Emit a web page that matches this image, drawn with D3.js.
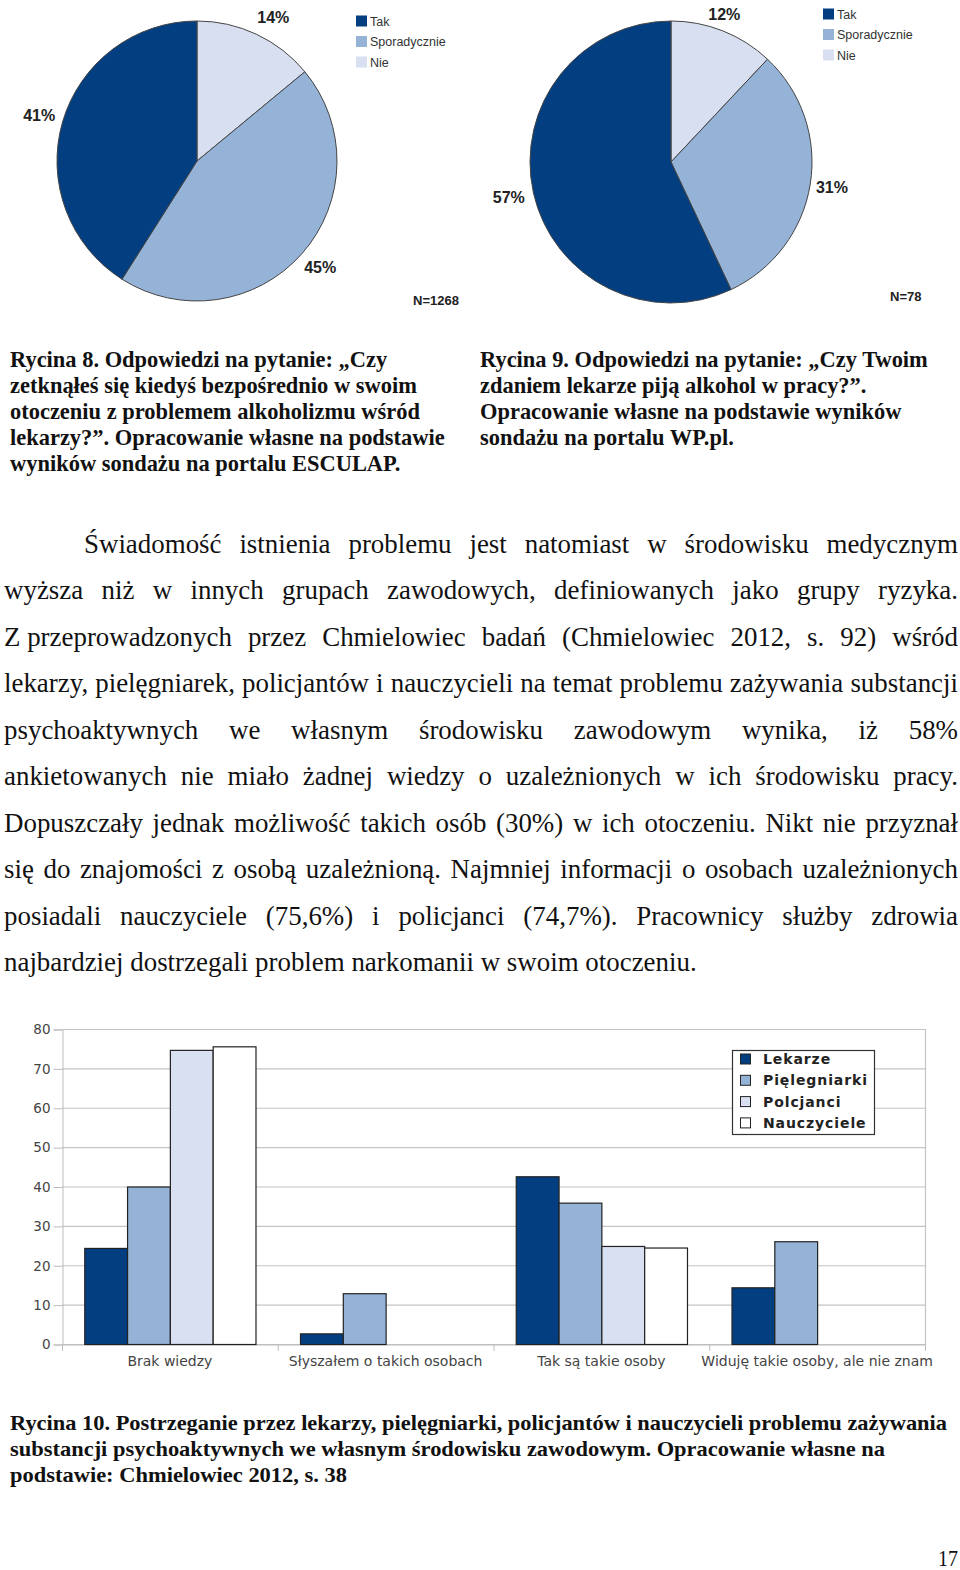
<!DOCTYPE html>
<html><head><meta charset="utf-8">
<script src="https://cdn.jsdelivr.net/npm/d3@7"></script>
<style>html,body{margin:0;padding:0;background:#fff}svg{display:block}</style>
</head><body>
<svg id="page" width="960" height="1570"></svg>
<script>
// ---------- DATA ----------
const pieLabels = ["Tak", "Sporadycznie", "Nie"];
const pie1Values = [41, 45, 14];   // N=1268
const pie2Values = [57, 31, 12];   // N=78
const pie1N = "N=1268";
const pie2N = "N=78";

const caption8 = ["Rycina 8. Odpowiedzi na pytanie: „Czy",
  "zetknąłeś się kiedyś bezpośrednio w swoim",
  "otoczeniu z problemem alkoholizmu wśród",
  "lekarzy?”. Opracowanie własne na podstawie",
  "wyników sondażu na portalu ESCULAP."];
const caption9 = ["Rycina 9. Odpowiedzi na pytanie: „Czy Twoim",
  "zdaniem lekarze piją alkohol w pracy?”.",
  "Opracowanie własne na podstawie wyników",
  "sondażu na portalu WP.pl."];
const bodyLines = [
  "Świadomość istnienia problemu jest natomiast w środowisku medycznym",
  "wyższa niż w innych grupach zawodowych, definiowanych jako grupy ryzyka.",
  "Z\u00A0przeprowadzonych przez Chmielowiec badań (Chmielowiec 2012, s. 92) wśród",
  "lekarzy, pielęgniarek, policjantów i nauczycieli na temat problemu zażywania substancji",
  "psychoaktywnych we własnym środowisku zawodowym wynika, iż 58%",
  "ankietowanych nie miało żadnej wiedzy o uzależnionych w ich środowisku pracy.",
  "Dopuszczały jednak możliwość takich osób (30%) w ich otoczeniu. Nikt nie przyznał",
  "się do znajomości z osobą uzależnioną. Najmniej informacji o osobach uzależnionych",
  "posiadali nauczyciele (75,6%) i policjanci (74,7%). Pracownicy służby zdrowia",
  "najbardziej dostrzegali problem narkomanii w swoim otoczeniu."];

const categories = ["Brak wiedzy", "Słyszałem o takich osobach", "Tak są takie osoby", "Widuję takie osoby, ale nie znam"];
const seriesNames = ["Lekarze", "Pięlegniarki", "Polcjanci", "Nauczyciele"];
const lekarze      = [24.4, 2.7, 42.6, 14.4];
const pielegniarki = [40.0, 12.9, 35.9, 26.1];
const policjanci   = [74.7, 0, 24.9, 0];
const nauczyciele  = [75.6, 0, 24.5, 0];
const yTicks = [0, 10, 20, 30, 40, 50, 60, 70, 80];

const caption10 = ["Rycina 10. Postrzeganie przez lekarzy, pielęgniarki, policjantów i nauczycieli problemu zażywania",
  "substancji psychoaktywnych we własnym środowisku zawodowym. Opracowanie własne na",
  "podstawie: Chmielowiec 2012, s. 38"];
const pageNumber = "17";

// ---------- STYLE ----------
const cDark = "#033f80", cMid = "#95b3d7", cLight = "#d8dff0";
const pieColors = [cDark, cMid, cLight];
const barColors = [cDark, cMid, "#d9e0f2", "#ffffff"];
const serif = "'Liberation Serif','Times New Roman',serif";
const sans = "'Liberation Sans',Arial,sans-serif";
const dsans = "'DejaVu Sans',Verdana,sans-serif";

const svg = d3.select("#page");

function measure(str, family, size, weight) {
  const t = svg.append("text").attr("font-family", family).attr("font-size", size)
    .attr("font-weight", weight || "normal").text(str);
  const w = t.node().getComputedTextLength();
  t.remove();
  return w;
}

// ---------- PIES ----------
function drawPie(values, cx, cy, r, legX, legY, nText, nX, nY, shifts) {
  const g = svg.append("g").attr("transform", `translate(${cx},${cy})`);
  // drawing order clockwise from 12 o'clock: Nie, Sporadycznie, Tak
  const order = [2, 1, 0];
  const items = order.map(i => ({ label: pieLabels[i], value: values[i], color: pieColors[i] }));
  const arcs = d3.pie().sort(null).value(d => d.value)(items);
  const arc = d3.arc().innerRadius(0).outerRadius(r);
  g.selectAll("path").data(arcs).join("path")
    .attr("d", arc).attr("fill", d => d.data.color)
    .attr("stroke", "#444").attr("stroke-width", 1);
  g.selectAll("text.lbl").data(arcs).join("text").attr("class", "lbl")
    .each(function (d, i) {
      const a = (d.startAngle + d.endAngle) / 2;
      const s = Math.sin(a), c = -Math.cos(a);
      const extra = 16 * Math.abs(s) + 7 * Math.abs(c);
      const rr = r + 5 + extra;
      d3.select(this).attr("x", rr * s + shifts[i]).attr("y", rr * c);
    })
    .attr("text-anchor", "middle").attr("dominant-baseline", "central")
    .attr("font-family", sans).attr("font-weight", "bold").attr("font-size", 16)
    .attr("fill", "#222").text(d => d.data.value + "%");
  // legend
  const lg = svg.append("g").attr("transform", `translate(${legX},${legY})`);
  pieLabels.forEach((lab, i) => {
    lg.append("rect").attr("x", 0).attr("y", i * 20.5 - 5.5).attr("width", 11).attr("height", 11)
      .attr("fill", pieColors[i]);
    lg.append("text").attr("x", 14).attr("y", i * 20.5 + 4.5)
      .attr("font-family", sans).attr("font-size", 12.5).attr("fill", "#333").text(lab);
  });
  svg.append("text").attr("x", nX).attr("y", nY).attr("font-family", sans)
    .attr("font-weight", "bold").attr("font-size", 13).attr("fill", "#222").text(nText);
}
drawPie(pie1Values, 197, 161, 140, 356, 21, pie1N, 413, 305, [9, 2, -2]);
drawPie(pie2Values, 671, 162, 141, 823, 14, pie2N, 890, 301, [-5, 0, -3]);

// ---------- CAPTIONS 8 / 9 ----------
function captionBlock(lines, x, y0, lh, refIdx, refW) {
  const nat = measure(lines[refIdx], serif, 20, "bold");
  const fs = 20 * refW / nat;
  lines.forEach((l, i) => {
    svg.append("text").attr("x", x).attr("y", y0 + i * lh).attr("font-family", serif)
      .attr("font-weight", "bold").attr("font-size", fs).attr("fill", "#111").text(l);
  });
}
captionBlock(caption8, 10, 366.5, 26, 3, 435);
captionBlock(caption9, 480, 366.5, 26, 0, 448);

// ---------- BODY TEXT (justified) ----------
(function () {
  const natLast = measure(bodyLines[9], serif, 24, "normal");
  const fs = 24 * 693 / natLast;
  const right = 958;
  bodyLines.forEach((line, i) => {
    const y = 553 + i * 46.45;
    const x0 = i === 0 ? 84 : 4;
    const t = svg.append("text").attr("y", y).attr("font-family", serif)
      .attr("font-size", fs).attr("fill", "#111");
    if (i === bodyLines.length - 1) { t.attr("x", x0).text(line); return; }
    const words = line.split(" ");
    const widths = words.map(w => measure(w, serif, fs, "normal"));
    const total = d3.sum(widths);
    const gap = (right - x0 - total) / (words.length - 1);
    let x = x0;
    words.forEach((w, k) => {
      t.append("tspan").attr("x", x).text(w);
      x += widths[k] + gap;
    });
  });
})();

// ---------- BAR CHART ----------
(function () {
  const left = 62, right = 925, top = 1029, bottom = 1344;
  const y = d3.scaleLinear().domain([0, 80]).range([bottom, top]);
  const x0 = d3.scaleBand().domain(categories).range([left, right]).paddingInner(0).paddingOuter(0);
  const x1 = d3.scaleBand().domain(seriesNames).range([0, x0.bandwidth()]).paddingInner(0).paddingOuter(0.52);
  const seriesValues = [lekarze, pielegniarki, policjanci, nauczyciele];
  const g = svg.append("g");
  // gridlines
  g.append("g").selectAll("line").data(yTicks).join("line")
    .attr("x1", left).attr("x2", right).attr("y1", d => y(d) + 0.5).attr("y2", d => y(d) + 0.5)
    .attr("stroke", "#c4c4c4").attr("stroke-width", 1.2);
  g.append("line").attr("x1", right + 0.5).attr("x2", right + 0.5).attr("y1", top).attr("y2", bottom)
    .attr("stroke", "#c4c4c4").attr("stroke-width", 1.2);
  // y axis
  const ya = g.append("g").attr("transform", `translate(${left + 0.5},0.5)`)
    .call(d3.axisLeft(y).tickValues(yTicks).tickSize(9).tickPadding(3));
  ya.selectAll("path,line").attr("stroke", "#bcbcbc");
  ya.selectAll("text").attr("font-family", dsans).attr("font-size", 13.5).attr("fill", "#444");
  // x axis
  const xa = g.append("g").attr("transform", `translate(0,${bottom + 0.5})`)
    .call(d3.axisBottom(x0).tickSize(0).tickPadding(12));
  xa.select(".domain").attr("stroke", "#bcbcbc");
  xa.selectAll("text").attr("font-family", dsans).attr("font-size", 14).attr("fill", "#444");
  g.append("g").selectAll("line").data(categories.concat(["__end"])).join("line")
    .attr("x1", (d, i) => (i < categories.length ? x0(d) : right) + 0.5)
    .attr("x2", (d, i) => (i < categories.length ? x0(d) : right) + 0.5)
    .attr("y1", bottom).attr("y2", bottom + 7).attr("stroke", "#bcbcbc");
  // bars
  const barData = [];
  categories.forEach((c, ci) => seriesNames.forEach((s, si) => {
    const v = seriesValues[si][ci];
    if (v > 0) barData.push({ c, s, si, v });
  }));
  g.append("g").selectAll("rect").data(barData).join("rect")
    .attr("x", d => x0(d.c) + x1(d.s) + 0.5).attr("width", x1.bandwidth())
    .attr("y", d => y(d.v) + 0.5).attr("height", d => bottom - y(d.v))
    .attr("fill", d => barColors[d.si]).attr("stroke", "#222").attr("stroke-width", 1.2);
  // legend
  const lg = g.append("g");
  lg.append("rect").attr("x", 732.5).attr("y", 1050.5).attr("width", 142).attr("height", 84)
    .attr("fill", "#fff").attr("stroke", "#333").attr("stroke-width", 1.2);
  seriesNames.forEach((s, i) => {
    const cy = 1059 + i * 21.3;
    lg.append("rect").attr("x", 740.5).attr("y", cy - 5).attr("width", 10).attr("height", 10)
      .attr("fill", barColors[i]).attr("stroke", "#222").attr("stroke-width", 1);
    lg.append("text").attr("x", 763).attr("y", cy + 5).attr("font-family", dsans)
      .attr("font-weight", "bold").attr("font-size", 14).attr("letter-spacing", 0.9)
      .attr("fill", "#222").text(s);
  });
})();

// ---------- CAPTION 10 ----------
const cap10Ends = [947, 885, 347];
caption10.forEach((l, i) => {
  svg.append("text").attr("x", 10).attr("y", 1430 + i * 26).attr("font-family", serif)
    .attr("font-weight", "bold").attr("font-size", 21).attr("fill", "#111")
    .attr("textLength", cap10Ends[i] - 10).attr("lengthAdjust", "spacingAndGlyphs").text(l);
});
svg.append("text").attr("x", 938).attr("y", 1566).attr("font-family", serif)
  .attr("font-size", 23).attr("fill", "#111").attr("textLength", 20)
  .attr("lengthAdjust", "spacingAndGlyphs").text(pageNumber);
</script>
</body></html>
